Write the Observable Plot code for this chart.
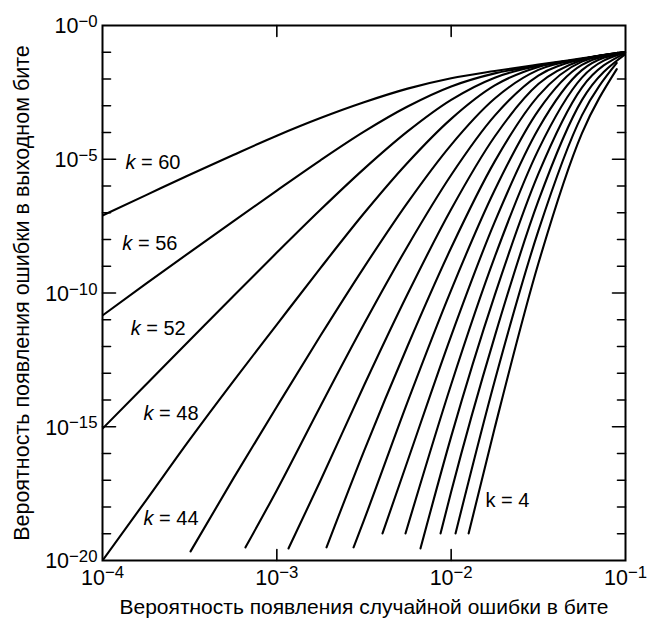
<!DOCTYPE html>
<html><head><meta charset="utf-8">
<script src="https://cdn.jsdelivr.net/npm/d3@7"></script>
<script src="https://cdn.jsdelivr.net/npm/@observablehq/plot@0.6"></script>
<style>html,body{margin:0;padding:0;background:#fff} svg{display:block}</style>
</head><body><div id="chart"></div>
<script>
// Curve families: each point is [log10(input bit error), log10(output bit error)]
const kValues = [60, 56, 52, 48, 44, 40, 36, 32, 28, 24, 20, 16, 12, 8, 4];
const k60 = [[-4,-7.10],[-3.75,-6.34],[-3.5,-5.58],[-3.25,-4.84],[-3,-4.12],[-2.75,-3.46],[-2.5,-2.87],[-2.25,-2.36],[-2,-1.97],[-1.75,-1.70],[-1.5,-1.46],[-1.25,-1.23],[-1,-1.0]];
const k56 = [[-4,-10.84],[-3.75,-9.65],[-3.5,-8.48],[-3.25,-7.32],[-3,-6.17],[-2.75,-5.04],[-2.5,-3.97],[-2.25,-3.03],[-2,-2.28],[-1.75,-1.79],[-1.5,-1.50],[-1.25,-1.25],[-1,-1.0]];
const k52 = [[-4,-15.07],[-3.75,-13.42],[-3.5,-11.77],[-3.25,-10.12],[-3,-8.49],[-2.75,-6.89],[-2.5,-5.36],[-2.25,-3.96],[-2,-2.78],[-1.75,-1.95],[-1.5,-1.51],[-1.25,-1.25],[-1,-1.0]];
const k48 = [[-4,-20.0],[-3.75,-17.75],[-3.5,-15.48],[-3.25,-13.30],[-3,-11.18],[-2.75,-9.07],[-2.5,-7.02],[-2.25,-5.13],[-2,-3.49],[-1.75,-2.24],[-1.5,-1.55],[-1.25,-1.25],[-1,-1.0]];
const k44 = [[-3.495,-19.66],[-3.25,-16.94],[-3,-14.25],[-2.75,-11.60],[-2.5,-9.04],[-2.25,-6.62],[-2,-4.46],[-1.75,-2.73],[-1.5,-1.66],[-1.25,-1.25],[-1,-1.0]];
const k40 = [[-3.18,-19.51],[-3,-17.37],[-2.75,-14.23],[-2.5,-11.16],[-2.25,-8.25],[-2,-5.59],[-1.75,-3.37],[-1.5,-1.87],[-1.25,-1.26],[-1,-1.0]];
const k36 = [[-2.933,-19.55],[-2.75,-17.02],[-2.5,-13.46],[-2.25,-10.04],[-2,-6.87],[-1.75,-4.15],[-1.5,-2.19],[-1.25,-1.29],[-1,-1.0]];
const k32 = [[-2.715,-19.51],[-2.5,-15.91],[-2.25,-11.98],[-2,-8.31],[-1.75,-5.08],[-1.5,-2.63],[-1.25,-1.35],[-1,-1.0]];
const k28 = [[-2.56,-19.51],[-2.5,-18.49],[-2.25,-14.07],[-2,-9.89],[-1.75,-6.15],[-1.5,-3.18],[-1.25,-1.47],[-1,-1.0]];
const k24 = [[-2.394,-18.99],[-2.25,-16.28],[-2,-11.60],[-1.75,-7.34],[-1.5,-3.86],[-1.25,-1.67],[-1,-1.0]];
const k20 = [[-2.262,-18.99],[-2,-13.42],[-1.75,-8.65],[-1.5,-4.65],[-1.25,-1.95],[-1,-1.01]];
const k16 = [[-2.176,-19.55],[-2,-15.37],[-1.75,-10.08],[-1.5,-5.55],[-1.25,-2.32],[-1,-1.03]];
const k12 = [[-2.061,-18.99],[-2,-17.43],[-1.75,-11.62],[-1.5,-6.56],[-1.25,-2.79],[-1,-1.07]];
const k8  = [[-1.975,-18.99],[-1.75,-13.28],[-1.5,-7.68],[-1.25,-3.36],[-1.05,-1.40]];
const k4  = [[-1.9,-18.99],[-1.75,-15.04],[-1.5,-8.90],[-1.25,-4.03],[-1.05,-1.63]];
const curves = [k60, k56, k52, k48, k44, k40, k36, k32, k28, k24, k20, k16, k12, k8, k4];

// Axes
const xDomain = [1e-4, 1e-1];
const yDomain = [1e-20, 1];
const xTickExp = [-3, -2];
const xLabelExp = [-4, -3, -2, -1];
const yLabelExp = [0, -5, -10, -15, -20];
const yMajorExp = [-5, -10, -15];
const yMinorExp = [-1,-2,-3,-4,-6,-7,-8,-9,-11,-12,-13,-14,-16,-17,-18,-19];

// Curve labels
const labelText = ["k = 60", "k = 56", "k = 52", "k = 48", "k = 44", "k = 4"];
const labelItalic = [true, true, true, true, true, false];
const labelX = [1.354e-4, 1.30e-4, 1.45e-4, 1.72e-4, 1.72e-4, 1.574e-2];
const labelY = [7.6e-6, 7.1e-9, 4.7e-12, 3.2e-15, 3.7e-19, 1.74e-18];

const xTitle = "Вероятность появления случайной ошибки в бите";
const yTitle = "Вероятность появления ошибки в выходном бите";

const rows = curves.flatMap((pts, i) => pts.map(([lx, ly]) => ({k: kValues[i], x: 10 ** lx, y: 10 ** ly})));
const expText = e => "10^" + "\u2212" + Math.abs(e);
const tickShape = {draw(ctx, l) { ctx.moveTo(0, 0); ctx.lineTo(0, -l); }};
const tickOpts = {shape: tickShape, anchor: "start", stroke: "black", strokeWidth: 1.6};

const chart = Plot.plot({
  width: 647, height: 619,
  marginLeft: 102, marginRight: 22, marginTop: 25, marginBottom: 59,
  style: {fontFamily: "'Liberation Sans', Arial, sans-serif", background: "white", color: "black"},
  x: {type: "log", domain: xDomain, axis: null},
  y: {type: "log", domain: yDomain, axis: null},
  marks: [
    Plot.line(rows, {x: "x", y: "y", z: "k", curve: "monotone-x", stroke: "black", strokeWidth: 2.1, clip: true}),
    Plot.frame({stroke: "black", strokeWidth: 2}),
    Plot.vector(yMinorExp, {y: e => 10 ** e, frameAnchor: "left", rotate: 90, length: 8, ...tickOpts}),
    Plot.vector(yMajorExp, {y: e => 10 ** e, frameAnchor: "left", rotate: 90, length: 13, ...tickOpts}),
    Plot.vector(yMinorExp, {y: e => 10 ** e, frameAnchor: "right", rotate: -90, length: 8, ...tickOpts}),
    Plot.vector(yMajorExp, {y: e => 10 ** e, frameAnchor: "right", rotate: -90, length: 13, ...tickOpts}),
    Plot.vector(xTickExp, {x: e => 10 ** e, frameAnchor: "bottom", rotate: 0, length: 11, ...tickOpts}),
    Plot.vector(xTickExp, {x: e => 10 ** e, frameAnchor: "top", rotate: 180, length: 11, ...tickOpts}),
    Plot.text(yLabelExp, {y: e => 10 ** e, text: expText, frameAnchor: "left", textAnchor: "end", lineAnchor: "middle", dx: -5, dy: 1, fontSize: 21.5}),
    Plot.text(xLabelExp, {x: e => 10 ** e, text: expText, frameAnchor: "bottom", textAnchor: "middle", lineAnchor: "top", dy: 9, fontSize: 21.5}),
    Plot.text(labelText, {x: (d, i) => labelX[i], y: (d, i) => labelY[i], text: (d, i) => (labelItalic[i] ? "~" : "") + d, textAnchor: "start", lineAnchor: "middle", fontSize: 20}),
    Plot.text([xTitle], {text: d => d, frameAnchor: "bottom", textAnchor: "middle", lineAnchor: "middle", dy: 47, fontSize: 21}),
    Plot.text([yTitle], {text: d => d, frameAnchor: "left", textAnchor: "middle", rotate: -90, lineAnchor: "middle", dx: -80, fontSize: 21.5})
  ]
});

// Superscript exponents and italic "k"
const NS = "http://www.w3.org/2000/svg";
chart.querySelectorAll("text").forEach(t => {
  const s = t.textContent;
  if (s.includes("^")) {
    const [base, exp] = s.split("^");
    t.textContent = base;
    const ts = document.createElementNS(NS, "tspan");
    ts.setAttribute("font-size", "0.78em");
    ts.setAttribute("dy", "-0.38em");
    ts.textContent = exp;
    t.appendChild(ts);
  } else if (s.startsWith("~")) {
    t.textContent = "";
    const ki = document.createElementNS(NS, "tspan");
    ki.setAttribute("font-style", "italic");
    ki.textContent = s[1];
    t.appendChild(ki);
    t.appendChild(document.createTextNode(s.slice(2)));
  }
});
document.getElementById("chart").appendChild(chart);
</script>
</body></html>
